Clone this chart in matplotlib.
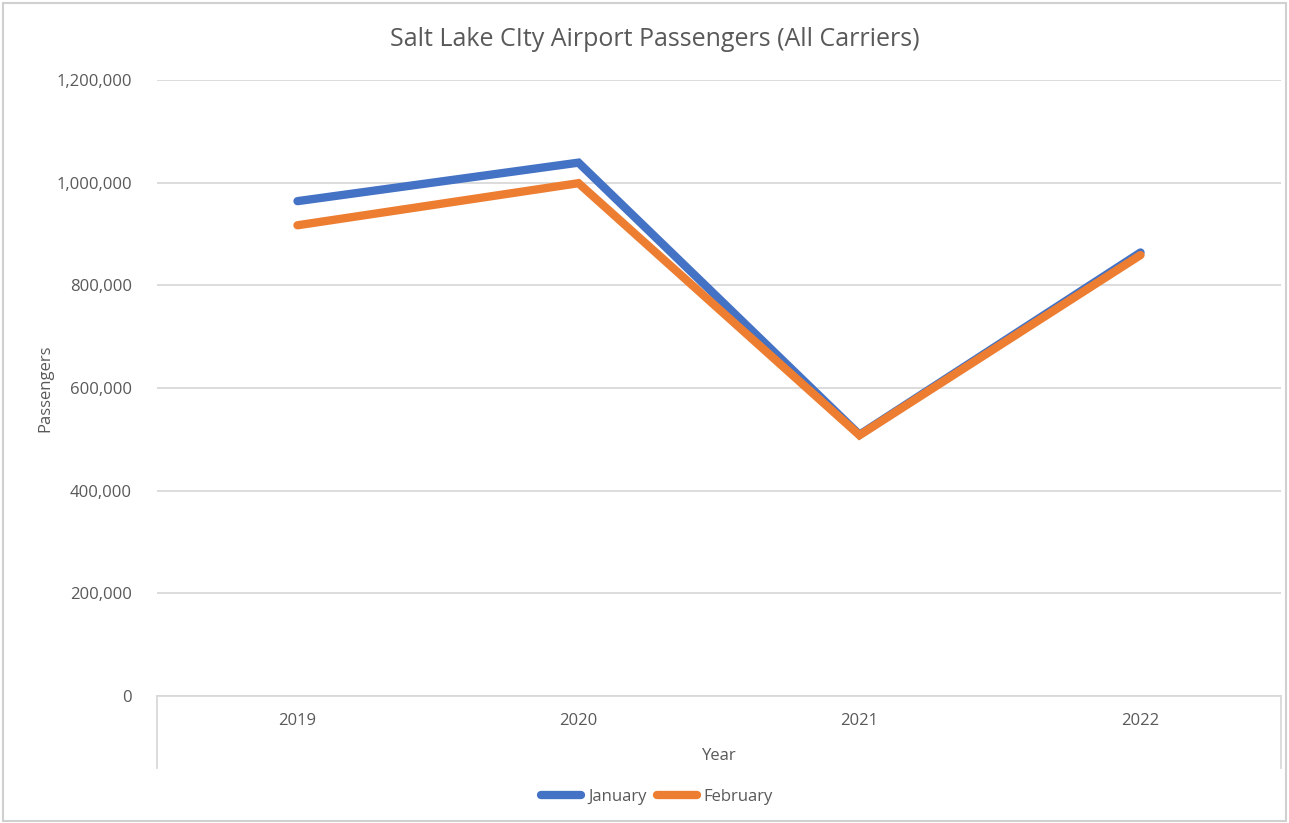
import matplotlib.pyplot as plt
from matplotlib.lines import Line2D
from matplotlib.patches import Rectangle
from matplotlib.ticker import FuncFormatter

plt.rcParams['font.family'] = ['Open Sans', 'DejaVu Sans']

years = ['2019', '2020', '2021', '2022']
january = [964000, 1039000, 509000, 864000]
february = [917000, 999000, 508000, 859000]

blue = '#4472C4'
orange = '#ED7D31'
text_color = '#595959'
grid_color = '#D9D9D9'

fig = plt.figure(figsize=(12.89, 8.23), dpi=100)
W, H = 1289, 823
# plot area in pixels: left 157, right 1281, top 80, bottom 696
ax = fig.add_axes([157 / W, 1 - 696 / H, (1281 - 157) / W, (696 - 80) / H])

x = range(len(years))
ax.plot(x, january, color=blue, lw=6, solid_capstyle='round',
        solid_joinstyle='miter', label='January', zorder=3)
ax.plot(x, february, color=orange, lw=6, solid_capstyle='round',
        solid_joinstyle='miter', label='February', zorder=4)

ax.set_xlim(-0.5, 3.5)
ax.set_ylim(0, 1200000)
ax.set_yticks(range(0, 1200001, 200000))
ax.yaxis.set_major_formatter(FuncFormatter(lambda v, p: f'{int(v):,}'))
ax.set_xticks(list(x))
ax.set_xticklabels(years)
ax.tick_params(axis='both', length=0, labelsize=12, colors=text_color)
ax.tick_params(axis='x', pad=12)
ax.tick_params(axis='y', pad=18)

ax.grid(axis='y', color=grid_color, lw=1.3)
ax.set_axisbelow(True)
for s in ['top', 'right', 'left']:
    ax.spines[s].set_visible(False)
ax.spines['bottom'].set_color(grid_color)
ax.spines['bottom'].set_linewidth(1.3)

# category axis side lines below the plot
for px in (157, 1281):
    fig.add_artist(Line2D([px / W, px / W], [1 - 696 / H, 1 - 768 / H],
                          color=grid_color, lw=1.3))

ax.set_ylabel('Passengers', fontsize=12, color=text_color)
ax.yaxis.set_label_coords(53 / W, 1 - 388 / H, transform=fig.transFigure)
fig.text(719 / W, 1 - 756 / H, 'Year', ha='center', va='center',
         fontsize=12, color=text_color)
fig.text(655 / W, 1 - 40 / H, 'Salt Lake CIty Airport Passengers (All Carriers)',
         ha='center', va='center', fontsize=18, color=text_color)

handles, labels = ax.get_legend_handles_labels()
fig.legend(handles, labels, loc='center', bbox_to_anchor=(657 / W, 1 - 797 / H),
           ncol=2, frameon=False, fontsize=12, labelcolor=text_color,
           handlelength=2.4, handletextpad=0.4, columnspacing=0.6)

fig.add_artist(Rectangle((0.002, 0.002), 0.996, 0.994, transform=fig.transFigure,
                         fill=False, edgecolor='#D0D0D0', lw=1.5))

fig.savefig('out.png', dpi=100)
